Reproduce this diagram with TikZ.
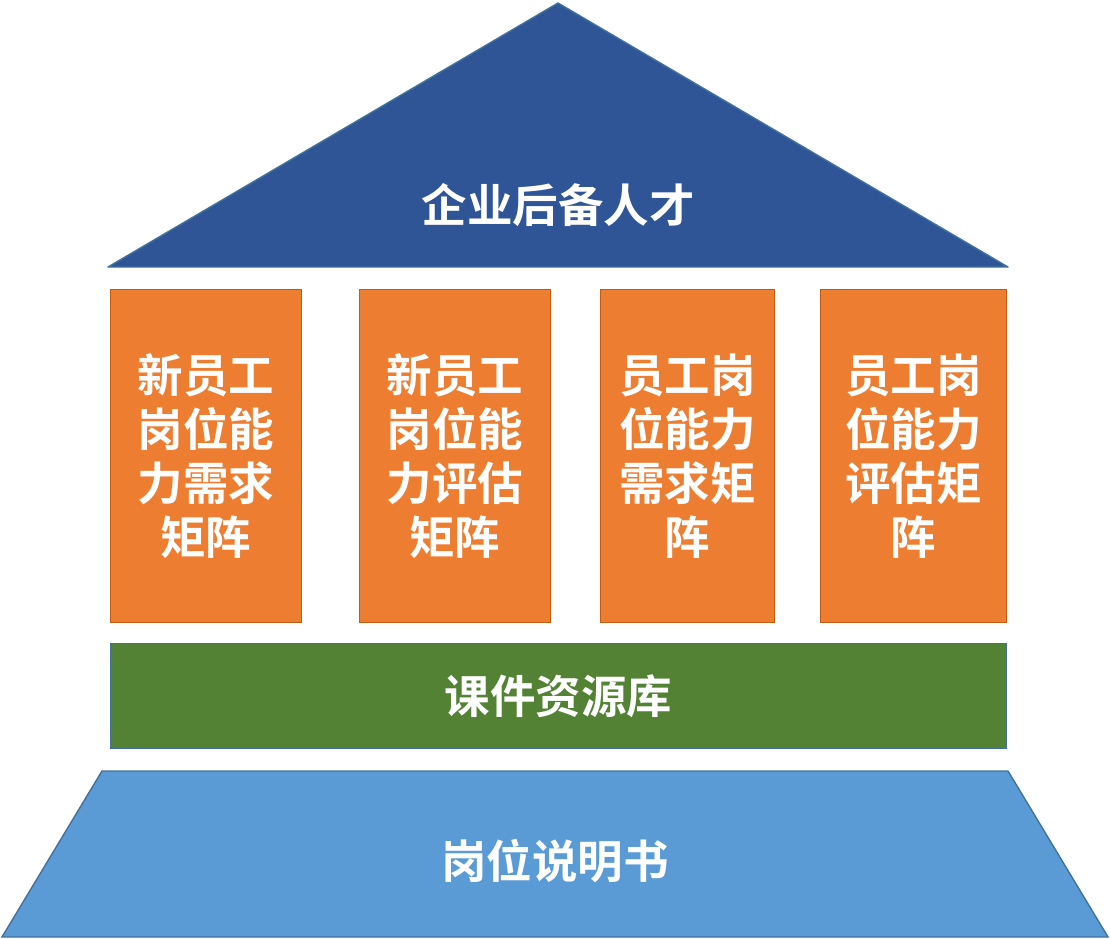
\documentclass[tikz,border=0pt]{standalone}
\usepackage{fontspec}
\setmainfont{Noto Sans CJK SC Bold}
\usetikzlibrary{positioning}
\definecolor{RoofBlue}{HTML}{2F5597}
\definecolor{EdgeBlue}{HTML}{41719C}
\definecolor{PillarOrange}{HTML}{ED7D31}
\definecolor{PillarEdge}{HTML}{C55A11}
\definecolor{BaseGreen}{HTML}{548235}
\definecolor{FloorBlue}{HTML}{5B9BD5}

\begin{document}
\begin{tikzpicture}[
  x=1pt,y=-1pt,
  font=\fontsize{45.5}{54}\selectfont,
  pillar/.style={rectangle,draw=PillarEdge,line width=1.6pt,fill=PillarOrange,text=white,align=center,minimum height=333pt,anchor=north west,inner sep=0pt},
  slab/.style={rectangle,draw=EdgeBlue,line width=1.6pt,fill=BaseGreen,text=white,minimum width=896pt,minimum height=105pt,anchor=north west},
  label/.style={text=white,align=center}
]
\useasboundingbox (0,0) rectangle (1110,938);
% roof
\draw[draw=EdgeBlue,line width=1.4pt,fill=RoofBlue,line join=round]
  (558,3) -- (1008,267) -- (108,267) -- cycle;
\node[label] (roof) at (558,205) {企业后备人才};

% pillars
\node[pillar,minimum width=191pt] (p1) at (109.5,288.5) {新员工\\岗位能\\力需求\\矩阵};
\node[pillar,minimum width=191pt] (p2) at (358.5,288.5) {新员工\\岗位能\\力评估\\矩阵};
\node[pillar,minimum width=174pt] (p3) at (599.5,288.5) {员工岗\\位能力\\需求矩\\阵};
\node[pillar,minimum width=186pt] (p4) at (819.5,288.5) {员工岗\\位能力\\评估矩\\阵};

% base
\node[slab] (lib) at (109.5,642.5) {课件资源库};
\draw[draw=EdgeBlue,line width=1.4pt,fill=FloorBlue]
  (102,771) -- (1008,771) -- (1108,937) -- (2,937) -- cycle;
\node[label] (floor) at (555,861) {岗位说明书};
\end{tikzpicture}
\end{document}
